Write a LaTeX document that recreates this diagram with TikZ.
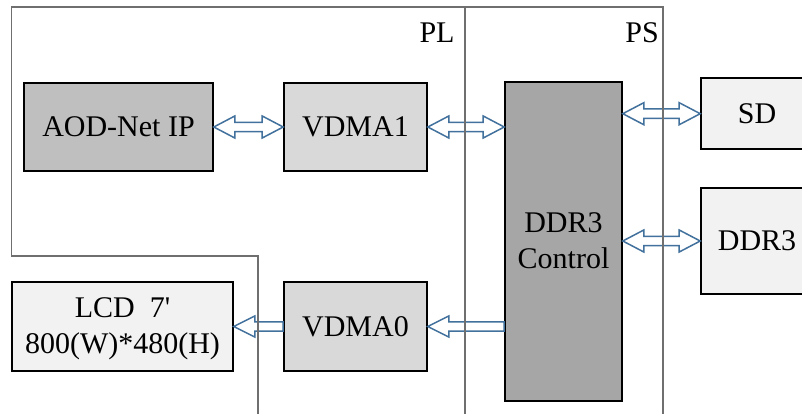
\documentclass[tikz,border=0pt]{standalone}
\usepackage{fontspec}
\setmainfont{Liberation Serif}
\usetikzlibrary{calc}
\definecolor{frameg}{HTML}{6F6F6F}
\definecolor{arrowb}{HTML}{41719C}
\definecolor{fillA}{HTML}{BFBFBF}
\definecolor{fillB}{HTML}{D9D9D9}
\definecolor{fillC}{HTML}{A6A6A6}
\definecolor{fillD}{HTML}{F2F2F2}
\tikzset{
  box/.style={draw=black, line width=1.6pt, inner sep=0pt, align=center,
    font=\fontsize{30}{36}\selectfont},
  regionline/.style={draw=frameg, line width=1.4pt, line join=miter},
  hollow/.style={draw=arrowb, fill=white, line width=1.5pt, line join=miter},
  lbl/.style={inner sep=0pt, font=\fontsize{30}{36}\selectfont}
}
\newcommand\twoway[2]{%
  \draw[hollow] let \p1=#1, \p2=#2 in
    (\x1,\y1) -- ++(21pt,11pt) -- ++(0pt,-6.3pt) -- (\x2-21pt,\y1+4.7pt)
    -- ++(0pt,6.3pt) -- (\x2,\y1) -- ++(-21pt,-11pt) -- ++(0pt,6.3pt)
    -- (\x1+21pt,\y1-4.7pt) -- ++(0pt,-6.3pt) -- cycle;}
\newcommand\oneway[2]{% tip at #1 (left), flat tail at #2 (right)
  \draw[hollow] let \p1=#1, \p2=#2 in
    (\x1,\y1) -- ++(21pt,10.5pt) -- ++(0pt,-5.8pt) -- (\x2,\y1+4.7pt)
    -- (\x2,\y1-4.7pt) -- (\x1+21pt,\y1-4.7pt) -- ++(0pt,-5.8pt) -- cycle;}
\begin{document}
\begin{tikzpicture}[x=1pt,y=-1pt]
\useasboundingbox (0,0) rectangle (802,414);
\clip (0,0) rectangle (802,414);
\fill[white] (0,0) rectangle (802,414);

\node[box, fill=fillA, minimum width=189pt, minimum height=88pt] (aod) at (118.5,127) {AOD-Net IP};
\node[box, fill=fillB, minimum width=143pt, minimum height=88pt] (vdma1) at (355.5,127) {VDMA1};
\node[box, fill=fillB, minimum width=143pt, minimum height=89pt] (vdma0) at (355.5,326.5) {VDMA0};
\node[box, fill=fillD, minimum width=221pt, minimum height=89pt] (lcd) at (122.5,326.5) {};
\node[lbl, align=center] (lcdtext) at (122.5,329) {LCD\ \ 7\textquotesingle\\800(W)*480(H)};
\node[box, fill=fillC, minimum width=117pt, minimum height=319pt] (ctrl) at (563.5,241.5) {};
\node[lbl, align=center] (ctrltext) at (563.5,241) {DDR3\\Control};
\node[box, fill=fillD, minimum width=112pt, minimum height=71pt] (sd) at (757,113.7) {SD};
\node[box, fill=fillD, minimum width=112pt, minimum height=106pt] (ddr) at (757,241) {DDR3};

\twoway{(aod.east)}{(vdma1.west)}
\twoway{(vdma1.east)}{(ctrl.west |- vdma1.east)}
\twoway{(ctrl.east |- sd.west)}{(sd.west)}
\twoway{(ctrl.east |- ddr.west)}{(ddr.west)}
\oneway{(lcd.east)}{(vdma0.west)}
\oneway{(vdma0.east)}{(ctrl.west |- vdma0.east)}

\draw[regionline] (258,420) -- (258,256) -- (11.5,256) -- (11.5,7) -- (663,7) -- (663,420);
\draw[regionline] (465,7) -- (465,420);
\node[lbl] (pl) at (437,32.5) {PL};
\node[lbl] (ps) at (642,32.5) {PS};
\end{tikzpicture}
\end{document}
